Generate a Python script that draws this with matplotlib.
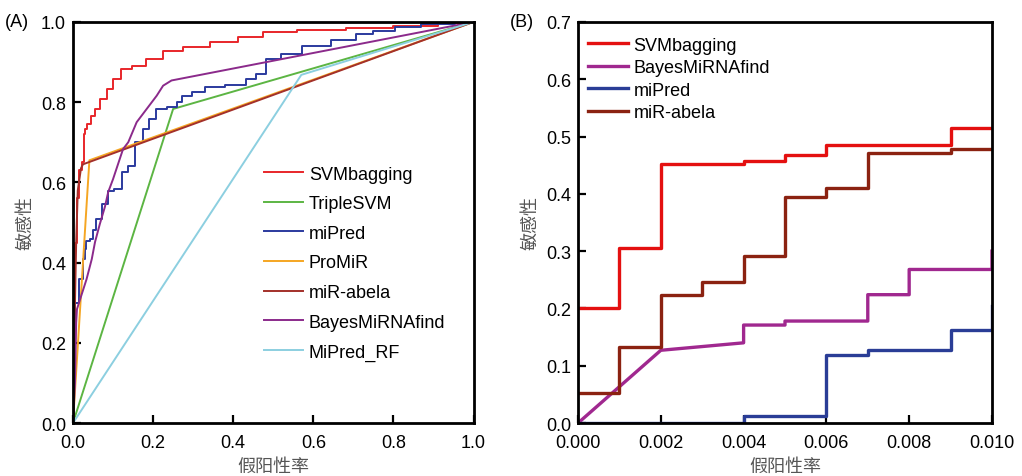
import matplotlib
matplotlib.use('Agg')
import matplotlib.pyplot as plt
import numpy as np

plt.rcParams['font.family'] = ['Liberation Sans', 'Noto Sans CJK SC']
plt.rcParams['axes.unicode_minus'] = False

# ---- panel A: full ROC curves (fpr, tpr)
svm_fpr = [0, 0.002, 0.006, 0.012, 0.02, 0.025, 0.028, 0.030, 0.040, 0.051, 0.059, 0.076, 0.092,
           0.109, 0.130, 0.167, 0.20, 0.25, 0.30, 0.383, 0.441, 0.508, 0.608, 0.757, 0.84, 0.98, 1.0]
svm_tpr = [0, 0.25, 0.45, 0.56, 0.63, 0.65, 0.72, 0.733, 0.745, 0.766, 0.783, 0.808, 0.833,
           0.858, 0.883, 0.891, 0.908, 0.928, 0.937, 0.949, 0.962, 0.975, 0.981, 0.985, 0.991, 0.998, 1.0]

triple_fpr = [0, 0.25, 1.0]
triple_tpr = [0, 0.783, 1.0]

mipred_fpr = [0, 0.003, 0.008, 0.02, 0.028, 0.030, 0.034, 0.051, 0.051, 0.063, 0.084, 0.092, 0.113,
              0.134, 0.142, 0.167, 0.184, 0.196, 0.217, 0.25, 0.267, 0.279, 0.317, 0.342, 0.416,
              0.45, 0.466, 0.50, 0.541, 0.60, 0.69, 0.724, 0.774, 0.832, 0.907, 1.0]
mipred_tpr = [0, 0.10, 0.30, 0.36, 0.41, 0.434, 0.455, 0.459, 0.48, 0.509, 0.545, 0.579, 0.584,
              0.626, 0.642, 0.70, 0.733, 0.758, 0.783, 0.787, 0.80, 0.816, 0.825, 0.837, 0.842,
              0.858, 0.87, 0.908, 0.92, 0.941, 0.954, 0.97, 0.978, 0.987, 0.995, 1.0]

promir_fpr = [0, 0.035, 0.041, 1.0]
promir_tpr = [0, 0.56, 0.655, 1.0]

abela_fpr = [0, 0.003, 0.008, 0.012, 0.02, 0.025, 1.0]
abela_tpr = [0, 0.20, 0.45, 0.58, 0.635, 0.645, 1.0]

bayes_fpr = [0, 0.005, 0.008, 0.010, 0.026, 0.034, 0.047, 0.055, 0.067, 0.080, 0.088, 0.10,
             0.125, 0.138, 0.159, 0.184, 0.209, 0.225, 0.246, 1.0]
bayes_tpr = [0, 0.10, 0.25, 0.284, 0.334, 0.359, 0.409, 0.451, 0.496, 0.54, 0.576, 0.608,
             0.683, 0.70, 0.75, 0.783, 0.816, 0.841, 0.854, 1.0]

rf_fpr = [0, 0.57, 1.0]
rf_tpr = [0, 0.868, 1.0]

# ---- panel B: zoomed low-fpr region (step curves)
b_svm_fpr = [0, 0.001, 0.001, 0.002, 0.002, 0.004, 0.004, 0.005, 0.005, 0.006, 0.006, 0.009, 0.009, 0.0101]
b_svm_tpr = [0.20, 0.20, 0.305, 0.305, 0.452, 0.452, 0.458, 0.458, 0.467, 0.467, 0.486, 0.486, 0.515, 0.515]

b_bayes_fpr = [0, 0.002, 0.004, 0.004, 0.005, 0.005, 0.007, 0.007, 0.008, 0.008, 0.010, 0.010]
b_bayes_tpr = [0, 0.127, 0.140, 0.171, 0.171, 0.178, 0.178, 0.224, 0.224, 0.268, 0.268, 0.30]

b_mipred_fpr = [0, 0.004, 0.004, 0.006, 0.006, 0.007, 0.007, 0.009, 0.009, 0.010, 0.010]
b_mipred_tpr = [0, 0, 0.013, 0.013, 0.118, 0.118, 0.127, 0.127, 0.163, 0.163, 0.205]

b_abela_fpr = [0, 0.001, 0.001, 0.002, 0.002, 0.003, 0.003, 0.004, 0.004, 0.005, 0.005, 0.006, 0.006,
               0.007, 0.007, 0.009, 0.009, 0.0101]
b_abela_tpr = [0.052, 0.052, 0.133, 0.133, 0.224, 0.224, 0.246, 0.246, 0.292, 0.292, 0.394, 0.394, 0.41,
               0.41, 0.471, 0.471, 0.479, 0.479]

xlabel = '假阳性率'
ylabel = '敏感性'
label_color = '#555555'

fig = plt.figure(figsize=(10.22, 4.77), dpi=100)
axA = fig.add_axes([0.0714, 0.111, 0.392, 0.841])
axB = fig.add_axes([0.5656, 0.111, 0.405, 0.841])

lw = 1.4
axA.plot(svm_fpr, svm_tpr, color='#e8262a', lw=lw, label='SVMbagging', drawstyle='steps-mid')
axA.plot(triple_fpr, triple_tpr, color='#5cb543', lw=lw, label='TripleSVM')
axA.plot(mipred_fpr, mipred_tpr, color='#2b3a9e', lw=lw, label='miPred', drawstyle='steps-mid')
axA.plot(promir_fpr, promir_tpr, color='#f5a623', lw=lw, label='ProMiR')
axA.plot(abela_fpr, abela_tpr, color='#a3302a', lw=lw, label='miR-abela')
axA.plot(bayes_fpr, bayes_tpr, color='#8b2a8b', lw=lw, label='BayesMiRNAfind')
axA.plot(rf_fpr, rf_tpr, color='#8ccfe0', lw=lw, label='MiPred_RF')

axA.set_xlim(0, 1)
axA.set_ylim(0, 1)
axA.set_xticks(np.arange(0, 1.01, 0.2))
axA.set_yticks(np.arange(0, 1.01, 0.2))
axA.set_xticklabels(['0.0', '0.2', '0.4', '0.6', '0.8', '1.0'])
axA.set_yticklabels(['0.0', '0.2', '0.4', '0.6', '0.8', '1.0'])
axA.legend(loc='upper left', bbox_to_anchor=(0.476, 0.642), frameon=False, fontsize=13,
           handlelength=2.2, handletextpad=0.3, labelspacing=0.7, borderpad=0, borderaxespad=0)

lwB = 2.4
axB.plot(b_svm_fpr, b_svm_tpr, color='#e41010', lw=lwB, label='SVMbagging')
axB.plot(b_bayes_fpr, b_bayes_tpr, color='#a0288f', lw=lwB, label='BayesMiRNAfind')
axB.plot(b_mipred_fpr, b_mipred_tpr, color='#2a3d96', lw=lwB, label='miPred')
axB.plot(b_abela_fpr, b_abela_tpr, color='#8b2211', lw=lwB, label='miR-abela')

axB.set_xlim(0, 0.01)
axB.set_ylim(0, 0.7)
axB.set_xticks(np.arange(0, 0.0101, 0.002))
axB.set_xticklabels(['0.000', '0.002', '0.004', '0.006', '0.008', '0.010'])
axB.set_yticks(np.arange(0, 0.71, 0.1))
axB.set_yticklabels(['0.0', '0.1', '0.2', '0.3', '0.4', '0.5', '0.6', '0.7'])
axB.legend(loc='upper left', bbox_to_anchor=(0.025, 0.963), frameon=False, fontsize=13,
           handlelength=2.2, handletextpad=0.3, labelspacing=0.3, borderpad=0, borderaxespad=0)

for ax in (axA, axB):
    for s in ax.spines.values():
        s.set_linewidth(2.0)
    ax.tick_params(direction='in', length=6, width=1.6, labelsize=13, pad=5)
    ax.tick_params(axis='x', pad=8)
    ax.set_xlabel(xlabel, fontsize=13, color=label_color, labelpad=5)
    ax.set_ylabel(ylabel, fontsize=13, color=label_color, labelpad=5)

fig.text(0.005, 0.952, '(A)', fontsize=13, va='center')
fig.text(0.499, 0.952, '(B)', fontsize=13, va='center')

fig.savefig('out.png', dpi=100)
